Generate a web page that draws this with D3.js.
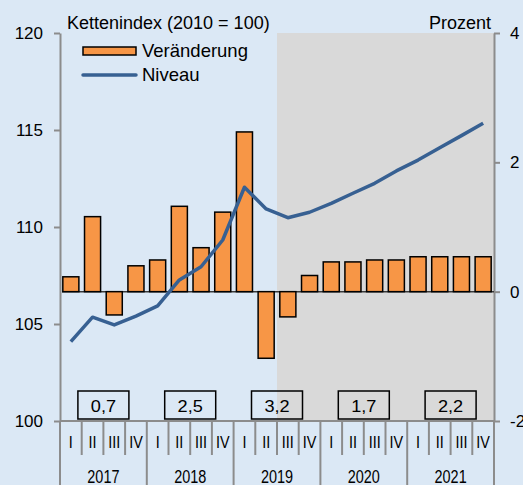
<!DOCTYPE html>
<html>
<head>
<meta charset="utf-8">
<script src="https://cdn.jsdelivr.net/npm/d3@7"></script>
<style>
  body { margin: 0; background: #dbe8f5; }
  svg { display: block; font-family: "Liberation Sans", Arial, sans-serif; }
</style>
</head>
<body>
<svg id="chart" width="523" height="485"></svg>
<script>
const years = ["2017", "2018", "2019", "2020", "2021"];
const quarterNames = ["I", "II", "III", "IV"];
const annualRates = ["0,7", "2,5", "3,2", "1,7", "2,2"];
const leftTicks = [100, 105, 110, 115, 120];
const rightTicks = [-2, 0, 2, 4];
// quarterly change in percent (right axis)
const change = [0.23, 1.16, -0.36, 0.40, 0.49, 1.32, 0.68, 1.23, 2.47, -1.03,
                -0.39, 0.25, 0.46, 0.46, 0.49, 0.49, 0.54, 0.54, 0.54, 0.54];
// chain index level, 2010 = 100 (left axis)
const level = [104.09, 105.35, 104.95, 105.41, 105.93, 107.27, 107.95, 109.33, 112.05, 110.93,
               110.48, 110.76, 111.22, 111.74, 112.25, 112.89, 113.45, 114.09, 114.71, 115.35];
const forecastStart = 10; // index of first forecast quarter (2019 III)

const svg = d3.select("#chart");
const plotLeft = 60, plotRight = 494, plotTop = 33, plotBottom = 421;

const keys = [];
years.forEach(y => quarterNames.forEach(q => keys.push(y + "-" + q)));

const x = d3.scaleBand().domain(keys).range([plotLeft, plotRight]).paddingInner(0.26).paddingOuter(0.13);
const step = x.step();
const yL = d3.scaleLinear().domain([100, 120]).range([plotBottom, plotTop]);
const yR = d3.scaleLinear().domain([-2, 4]).range([plotBottom, plotTop]);

// forecast shading
svg.append("rect")
  .attr("x", plotLeft + forecastStart * step)
  .attr("y", plotTop)
  .attr("width", plotRight - plotLeft - forecastStart * step)
  .attr("height", plotBottom - plotTop)
  .attr("fill", "#d9d9d9");

// axes
const axisLeft = svg.append("g")
  .attr("transform", `translate(${plotLeft},0)`)
  .call(d3.axisLeft(yL).tickValues(leftTicks).tickFormat(d => String(d))
    .tickSize(6).tickPadding(11).tickSizeOuter(0));
const axisRight = svg.append("g")
  .attr("transform", `translate(${plotRight},0)`)
  .call(d3.axisRight(yR).tickValues(rightTicks).tickFormat(d => String(d))
    .tickSize(6).tickPadding(10).tickSizeOuter(0));
[axisLeft, axisRight].forEach(g => {
  g.select(".domain").attr("stroke", "#8c8c8c").attr("stroke-width", 2);
  g.selectAll(".tick line").attr("stroke", "#8c8c8c").attr("stroke-width", 2);
  g.selectAll(".tick text").attr("font-size", 17).attr("fill", "#000")
    .attr("font-family", "Liberation Sans, Arial, sans-serif");
});

// bottom axis line and quarter separators
svg.append("line")
  .attr("x1", plotLeft).attr("x2", plotRight).attr("y1", plotBottom).attr("y2", plotBottom)
  .attr("stroke", "#8c8c8c").attr("stroke-width", 2);

const seps = d3.range(0, keys.length + 1);
svg.selectAll(".sep").data(seps).join("line")
  .attr("class", "sep")
  .attr("x1", i => plotLeft + i * step).attr("x2", i => plotLeft + i * step)
  .attr("y1", plotBottom)
  .attr("y2", i => (i % 4 === 0 ? 485 : 455))
  .attr("stroke", "#8c8c8c").attr("stroke-width", 2);

svg.selectAll(".qlab").data(keys).join("text")
  .attr("class", "qlab")
  .attr("text-anchor", "middle")
  .attr("font-size", 16)
  .attr("transform", k => `translate(${x(k) + x.bandwidth() / 2},448) scale(0.9,1.02)`)
  .text(k => k.split("-")[1]);

svg.selectAll(".ylab").data(years).join("text")
  .attr("class", "ylab")
  .attr("text-anchor", "middle")
  .attr("font-size", 17)
  .attr("transform", (y, i) => `translate(${plotLeft + (i * 4 + 2) * step},483) scale(0.85,1.08)`)
  .text(y => y);

// annual rate boxes
const boxes = svg.selectAll(".abox").data(annualRates).join("g").attr("class", "abox");
boxes.append("rect")
  .attr("x", (d, i) => plotLeft + (i * 4 + 2) * step - 25.5)
  .attr("y", 391)
  .attr("width", 51)
  .attr("height", 28)
  .attr("fill", "none")
  .attr("stroke", "#000")
  .attr("stroke-width", 1.5);
boxes.append("text")
  .attr("text-anchor", "middle")
  .attr("font-size", 16.5)
  .attr("transform", (d, i) => `translate(${plotLeft + (i * 4 + 2) * step},412) scale(1.1,1)`)
  .text(d => d);

// zero line
svg.append("line")
  .attr("x1", plotLeft + 2).attr("x2", plotRight)
  .attr("y1", yR(0)).attr("y2", yR(0))
  .attr("stroke", "#3a3a3a").attr("stroke-width", 1.5);

// bars
svg.selectAll(".bar").data(change).join("rect")
  .attr("class", "bar")
  .attr("x", (d, i) => x(keys[i]))
  .attr("width", x.bandwidth())
  .attr("y", d => yR(Math.max(0, d)))
  .attr("height", d => Math.abs(yR(d) - yR(0)))
  .attr("fill", "#f79646")
  .attr("stroke", "#000")
  .attr("stroke-width", 1.5);

// level line
const line = d3.line()
  .x((d, i) => x(keys[i]) + x.bandwidth() / 2)
  .y(d => yL(d));
svg.append("path")
  .datum(level)
  .attr("d", line)
  .attr("fill", "none")
  .attr("stroke", "#376092")
  .attr("stroke-width", 3.5)
  .attr("stroke-linejoin", "round");

// titles
svg.append("text").attr("x", 67).attr("y", 29).attr("font-size", 18).text("Kettenindex (2010 = 100)");
svg.append("text").attr("x", 491).attr("y", 29).attr("font-size", 18).attr("text-anchor", "end").text("Prozent");

// legend
svg.append("rect").attr("x", 83).attr("y", 47).attr("width", 53).attr("height", 8)
  .attr("fill", "#f79646").attr("stroke", "#000").attr("stroke-width", 1.5);
svg.append("text").attr("x", 142).attr("y", 57).attr("font-size", 18.5).text("Veränderung");
svg.append("line").attr("x1", 83).attr("x2", 136).attr("y1", 75).attr("y2", 75)
  .attr("stroke", "#376092").attr("stroke-width", 3.5).attr("stroke-linecap", "round");
svg.append("text").attr("x", 142).attr("y", 81).attr("font-size", 18.5).text("Niveau");
</script>
</body>
</html>
